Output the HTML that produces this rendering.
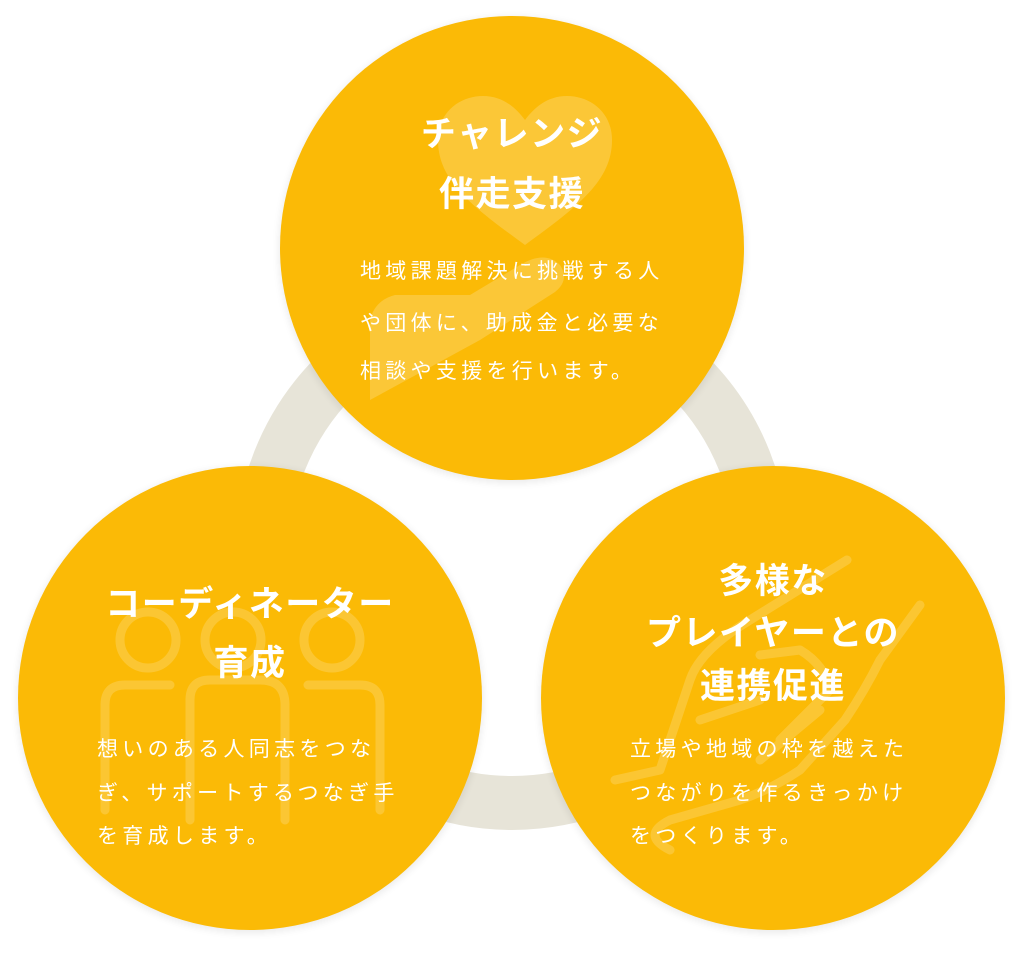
<!DOCTYPE html>
<html><head><meta charset="utf-8"><style>
html,body{margin:0;padding:0;background:#fff;}
svg{display:block;}
.t{font-family:"Liberation Sans","Noto Sans CJK JP",sans-serif;fill:#fff;font-weight:700;font-size:35px;text-anchor:middle;letter-spacing:1.5px;}
.b{font-family:"Liberation Sans","Noto Sans CJK JP",sans-serif;fill:#fff;font-size:21px;letter-spacing:4.3px;}
</style></head><body>
<svg width="1024" height="953" viewBox="0 0 1024 953" xmlns="http://www.w3.org/2000/svg">
<defs>
<filter id="sh" x="-10%" y="-10%" width="120%" height="120%"><feGaussianBlur stdDeviation="4"/></filter>
</defs>
<circle cx="512" cy="553" r="250" fill="none" stroke="#e7e4d8" stroke-width="54"/>
<g fill="#000" opacity="0.08" filter="url(#sh)">
<circle cx="512" cy="250" r="233"/><circle cx="250" cy="700" r="233"/><circle cx="773" cy="700" r="233"/>
</g>
<circle cx="512" cy="248" r="232" fill="#fbba06"/>
<circle cx="250" cy="698" r="232" fill="#fbba06"/>
<circle cx="773" cy="698" r="232" fill="#fbba06"/>
<g fill="#fff" opacity="0.2">
<path d="M525 245 C470 205 438 180 438 140 C438 112 460 96 483 96 C503 96 516 108 525 120 C534 108 547 96 567 96 C590 96 612 112 612 140 C612 180 580 205 525 245Z"/>
<path d="M370 400 L370 320 Q375 300 395 295 L470 295 L520 265 Q545 250 560 265 Q570 280 555 292 L480 340 Z"/>
</g>
<g fill="none" stroke="#fff" stroke-width="9" stroke-linecap="round" opacity="0.18">
<circle cx="148" cy="640" r="28"/><circle cx="233" cy="640" r="28"/><circle cx="332" cy="640" r="28"/>
<path d="M105 810 V705 Q105 685 125 685 H170"/>
<path d="M190 820 V700 Q190 680 210 680 H260 Q285 680 285 705 V820"/>
<path d="M308 685 H360 Q380 685 380 705 V810"/>
</g>
<g fill="none" stroke="#fff" stroke-width="9" stroke-linecap="round" stroke-linejoin="round" opacity="0.18">
<path d="M847 560 L750 620 Q700 650 690 680 L660 770 L615 780"/>
<path d="M920 605 L880 660 Q865 690 845 720 L800 770 Q770 790 740 800 L670 820 Q640 835 670 850"/>
<path d="M760 655 L800 650 Q825 665 830 690 L780 740"/>
<path d="M700 720 L760 700 M820 710 L760 760"/>
</g>
<text class="t" x="512" y="146">チャレンジ</text>
<text class="t" x="512" y="206">伴走支援</text>
<text class="b" x="360" y="278">地域課題解決に挑戦する人</text>
<text class="b" x="360" y="330">や団体に、助成金と必要な</text>
<text class="b" x="360" y="378">相談や支援を行います。</text>
<text class="t" x="250" y="616">コーディネーター</text>
<text class="t" x="250" y="675">育成</text>
<text class="b" x="97" y="756">想いのある人同志をつな</text>
<text class="b" x="97" y="800">ぎ、サポートするつなぎ手</text>
<text class="b" x="97" y="843">を育成します。</text>
<text class="t" x="773" y="593">多様な</text>
<text class="t" x="773" y="645">プレイヤーとの</text>
<text class="t" x="773" y="698">連携促進</text>
<text class="b" x="630" y="756">立場や地域の枠を越えた</text>
<text class="b" x="630" y="800">つながりを作るきっかけ</text>
<text class="b" x="630" y="843">をつくります。</text>
</svg>
</body></html>
